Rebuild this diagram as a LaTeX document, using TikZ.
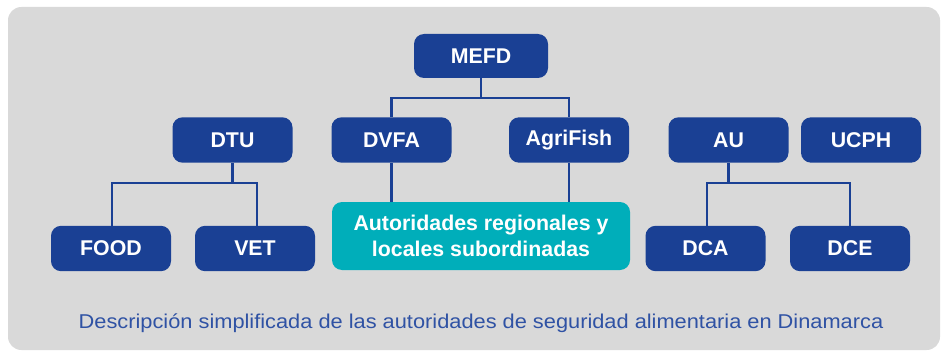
\documentclass[tikz,border=0pt]{standalone}
\usepackage{fontspec}
\usepackage{graphicx}
\setmainfont{Liberation Sans}
\definecolor{bgray}{HTML}{D9D9D9}
\definecolor{dblue}{HTML}{1A4094}
\definecolor{teal}{HTML}{00AEBA}
\definecolor{capblue}{HTML}{2F52A4}
\begin{document}
\begin{tikzpicture}[x=0.75pt,y=-0.75pt,
  box/.style={fill=dblue,rounded corners=7.5pt,text=white,font=\fontsize{16}{19}\selectfont\bfseries,inner sep=0pt,anchor=center},
  tealbox/.style={box,fill=teal,align=center},
  link/.style={draw=dblue,line width=2.2pt}]
\useasboundingbox (0,0) rectangle (946,353);
\fill[bgray,rounded corners=10pt] (8,7) rectangle (940,350);
\node[box,minimum width=100.5pt,minimum height=33pt] (mefd) at (481,56) {MEFD};
\node[box,minimum width=90pt,minimum height=34pt] (dtu) at (232.5,140) {DTU};
\node[box,minimum width=90pt,minimum height=34pt] (dvfa) at (391.5,140) {DVFA};
\node[box,minimum width=90pt,minimum height=34pt] (agri) at (569,140) {AgriFish};
\node[box,minimum width=90pt,minimum height=34pt] (au) at (728.5,140) {AU};
\node[box,minimum width=90pt,minimum height=34pt] (ucph) at (861,140) {UCPH};
\node[box,minimum width=90pt,minimum height=34pt] (food) at (111,248.5) {FOOD};
\node[box,minimum width=90pt,minimum height=34pt] (vet) at (255,248.5) {VET};
\node[tealbox,minimum width=223.5pt,minimum height=51pt] (aut) at (481,236) {Autoridades regionales y\\locales subordinadas};
\node[box,minimum width=90pt,minimum height=34pt] (dca) at (705.5,248.5) {DCA};
\node[box,minimum width=90pt,minimum height=34pt] (dce) at (850,248.5) {DCE};
\coordinate (m1) at (481,98);
\coordinate (d1) at (232.5,183);
\coordinate (a1) at (728.5,183);
\draw[link] (mefd.south) -- (m1);
\draw[link] (dvfa.north) |- (m1) -| (agri.north);
\draw[link] (dtu.south) -- (d1);
\draw[link] (food.north -| 112,0) |- (d1) -| (vet.north -| 257,0);
\draw[link] (au.south) -- (a1);
\draw[link] (dca.north -| 707,0) |- (a1) -| (dce.north);
\draw[link] (dvfa.south) -- (aut.north -| dvfa.south);
\draw[link] (agri.south) -- (aut.north -| agri.south);
\node[text=capblue,font=\fontsize{15}{18}\selectfont,inner sep=0pt] (cap) at (481,323) {\scalebox{1.09}[1]{Descripción simplificada de las autoridades de seguridad alimentaria en Dinamarca}};
\end{tikzpicture}
\end{document}
